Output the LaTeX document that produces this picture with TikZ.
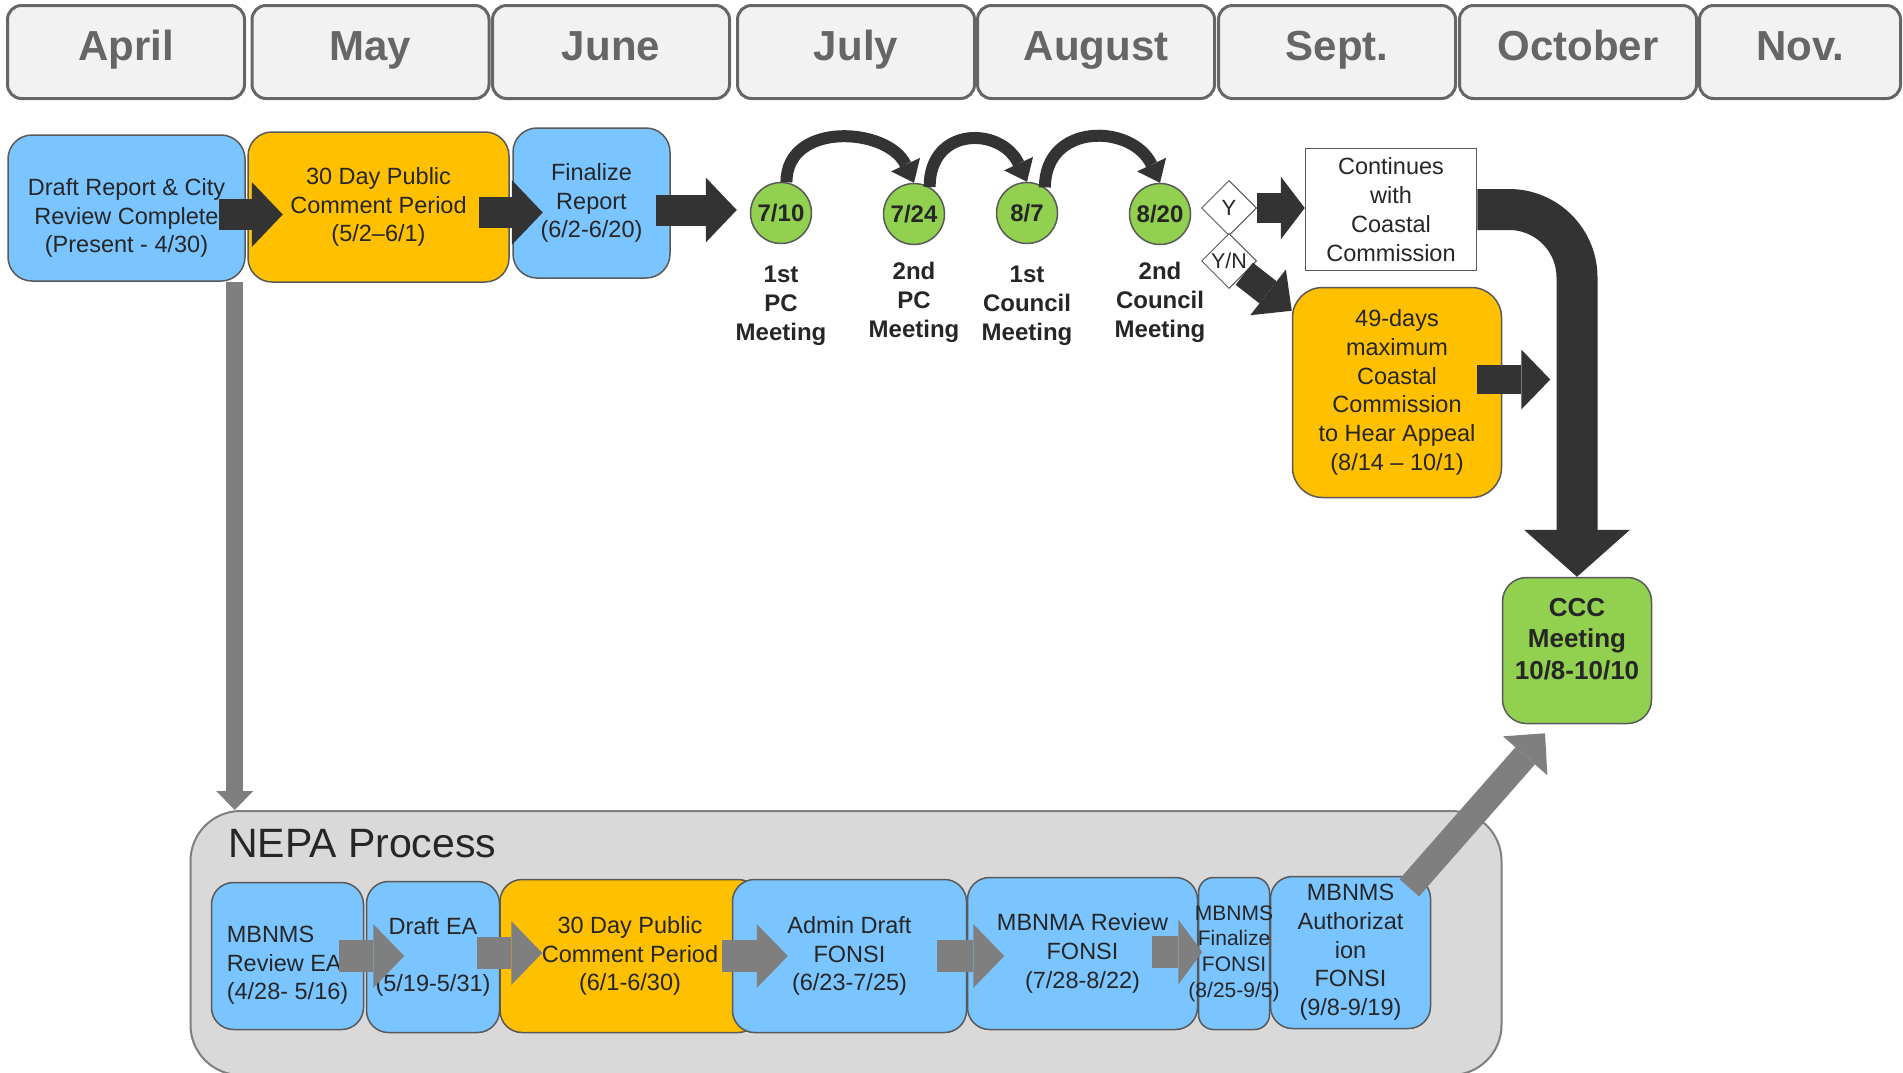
\documentclass[tikz,border=0pt]{standalone}
\usepackage{fontspec}
\setmainfont{Liberation Sans}
\usetikzlibrary{arrows.meta,shapes.geometric}

\definecolor{monthfill}{RGB}{242,242,242}
\definecolor{monthline}{RGB}{102,102,102}
\definecolor{sky}{RGB}{122,196,255}
\definecolor{amber}{RGB}{255,192,0}
\definecolor{leaf}{RGB}{146,208,80}
\definecolor{ink}{RGB}{38,38,38}
\definecolor{edge}{RGB}{89,89,89}
\definecolor{coal}{RGB}{51,51,51}
\definecolor{slate}{RGB}{127,127,127}
\definecolor{nepabg}{RGB}{217,217,217}

\newcommand{\monthfont}{\bfseries\fontsize{42}{50}\selectfont}
\newcommand{\stagefont}{\fontsize{23.5}{28.7}\selectfont}
\newcommand{\slimfont}{\fontsize{21}{25.6}\selectfont}
\newcommand{\meetfont}{\bfseries\fontsize{24}{29}\selectfont}
\newcommand{\cccfont}{\bfseries\fontsize{26}{31.5}\selectfont}

\tikzset{
  month/.style={draw=monthline, line width=3pt, fill=monthfill, rounded corners=14pt,
    minimum width=237pt, minimum height=93pt, inner sep=0pt, text=monthline,
    font=\monthfont, text height=30pt, text depth=14pt},
  stage/.style={draw=edge, line width=1.5pt, rounded corners=24pt, inner sep=0pt,
    align=center, text=ink, font=\stagefont},
  meet/.style={circle, draw=edge, line width=1.5pt, fill=leaf, minimum size=61pt,
    inner sep=0pt, text=ink, font=\meetfont},
  talk/.style={align=center, inner sep=0pt, text=ink, font=\meetfont},
  choice/.style={diamond, draw=edge, line width=1pt, fill=white, minimum width=55pt,
    minimum height=55pt, inner sep=0pt, text=ink},
  push/.style={draw=coal, line width=31pt, -{Triangle[length=31pt,width=65pt,line width=0pt]}},
  nudge/.style={draw=slate, line width=32pt, -{Triangle[length=31pt,width=64pt,line width=0pt]}},
  hop/.style={draw=coal, line width=12pt, -{Triangle[length=20pt,width=32pt,line width=0pt]}}
}

\begin{document}
\begin{tikzpicture}[x=1pt, y=-1pt]
    \clip (0,0) rectangle (1903,1072);
    % months
    \node[month] (apr) at (126,52) {April};
    \node[month] (may) at (370.5,52) {May};
    \node[month] (jun) at (611,52) {June};
    \node[month] (jul) at (856,52) {July};
    \node[month] (aug) at (1096,52) {August};
    \node[month] (sep) at (1337,52) {Sept.};
    \node[month] (oct) at (1578,52) {October};
    \node[month, minimum width=201pt] (nov) at (1800,52) {Nov.};

    % city report
    \node[stage, fill=sky, minimum width=237pt, minimum height=146pt] (draft) at (126.5,208) {\rule{0pt}{37pt}Draft Report \& City\\Review Complete\\(Present - 4/30)};
    \node[stage, fill=amber, minimum width=261pt, minimum height=150pt] (comment) at (378.5,207) {30 Day Public\\Comment Period\\(5/2--6/1)};
    \node[stage, fill=sky, minimum width=157pt, minimum height=150pt] (final) at (591.5,203) {Finalize\\Report\\(6/2-6/20)};
    \draw[push] ([xshift=-27pt, yshift=-6.5pt]draft.east) -- ([xshift=37pt, yshift=-6.5pt]draft.east);
    \draw[push] ([xshift=-31pt, yshift=-5.5pt]comment.east) -- ([xshift=33pt, yshift=-5.5pt]comment.east);
    \draw[push] ([xshift=-15pt, yshift=-7pt]final.east) -- ([xshift=66pt, yshift=-7pt]final.east);

    % hearings
    \node[meet] (m1) at (781,213) {7/10};
    \node[meet] (m2) at (914,214) {7/24};
    \node[meet] (m3) at (1027,213) {8/7};
    \node[meet] (m4) at (1160,214) {8/20};
    \draw[hop] (m1.80) to[out=90, in=115, looseness=1.23] (m2.north);
    \draw[hop] (m2.60) to[out=90, in=115, looseness=1.6] (m3.north);
    \draw[hop] (m3.55) to[out=90, in=115, looseness=1.45] (m4.north);
    \node[talk] (t1) at (781,306) {1st\\PC\\Meeting};
    \node[talk] (t2) at (914,302) {2nd\\PC\\Meeting};
    \node[talk] (t3) at (1027,306) {1st\\Council\\Meeting};
    \node[talk] (t4) at (1160,302) {2nd\\Council\\Meeting};

    % appeal
    \node[choice, font=\fontsize{22}{26}\selectfont] (yd) at (1229,208) {Y};
    \node[choice, font=\fontsize{21.5}{26}\selectfont] (yn) at (1229,261) {\makebox[0pt]{Y/N}};
    \node[draw=edge, line width=1.5pt, fill=white, minimum width=171pt, minimum height=122pt, inner sep=0pt,
      align=center, text=ink, font=\fontsize{23.5}{29}\selectfont] (cont) at (1391,209.5) {Continues\\with\\Coastal\\Commission};
    \node[stage, fill=amber, rounded corners=30pt, minimum width=209pt, minimum height=210pt] (f49) at (1397,392.5) {49-days\\maximum\\Coastal\\Commission\\to Hear Appeal\\(8/14 -- 10/1)};
    \node[stage, fill=leaf, font=\cccfont, minimum width=149pt, minimum height=146pt] (ccc) at (1577,650.5) {CCC\\Meeting\\10/8-10/10\\[-8pt]\mbox{}};
    \draw[push, line width=30pt, -{Triangle[length=24pt,width=63pt,line width=0pt]}] (yd.east) -- (yd.east -| cont.west);
    \draw[push, line width=28pt, -{Triangle[length=30pt,width=58pt,line width=0pt]}] (yn.-40) -- ([yshift=-24pt]f49.north west);
    \draw[push, line width=29pt, -{Triangle[length=29pt,width=60pt,line width=0pt]}] ([xshift=-25pt, yshift=13pt]f49.east) -- ([xshift=48pt, yshift=13pt]f49.east);
    \draw[draw=coal, line width=41pt, rounded corners=68pt, -{Triangle[length=47pt,width=106pt,line width=0pt]}] (cont.east) -| (ccc.north);

    % NEPA
    \node[draw=slate, line width=2pt, fill=nepabg, rounded corners=50pt, minimum width=1311pt, minimum height=264pt] (nepa) at (846,943) {};
    \node[anchor=base west, inner sep=0pt, text=ink, font=\fontsize{41}{48}\selectfont] (nepatitle) at (228,857) {NEPA Process};
    \node[stage, fill=sky, rounded corners=22pt, align=left, minimum width=152pt, minimum height=147pt] (n1) at (287.5,956) {\rule{0pt}{35pt}MBNMS\\Review EA\\(4/28- 5/16)};
    \node[stage, fill=sky, rounded corners=22pt, minimum width=133pt, minimum height=151pt] (n2) at (433,957) {Draft EA\\\mbox{}\\(5/19-5/31)};
    \node[stage, fill=amber, rounded corners=22pt, minimum width=260pt, minimum height=153pt] (n3) at (630,956) {30 Day Public\\Comment Period\\(6/1-6/30)};
    \node[stage, fill=sky, rounded corners=22pt, minimum width=234pt, minimum height=153pt] (n4) at (849.5,956) {Admin Draft\\FONSI\\(6/23-7/25)};
    \node[stage, fill=sky, rounded corners=22pt, minimum width=230pt, minimum height=152pt] (n5) at (1082.5,953.5) {MBNMA Review\\FONSI\\(7/28-8/22)};
    \node[stage, fill=sky, rounded corners=22pt, minimum width=160pt, minimum height=152pt] (n7) at (1350.5,952.5) {MBNMS\\Authorizat\\ion\\FONSI\\(9/8-9/19)};
    \node[stage, fill=sky, rounded corners=15pt, font=\slimfont, minimum width=71pt, minimum height=152pt] (n6) at (1234,953.5) {\makebox[0pt]{MBNMS}\\\makebox[0pt]{Finalize}\\\makebox[0pt]{FONSI}\\\makebox[0pt]{(8/25-9/5)}};
    \draw[nudge] ([xshift=-25pt]n1.east) -- ([xshift=40pt]n1.east);
    \draw[nudge] ([xshift=-23pt, yshift=4pt]n2.east) -- ([xshift=42pt, yshift=4pt]n2.east);
    \draw[nudge] ([xshift=-10pt]n4.west) -- ([xshift=56pt]n4.west);
    \draw[nudge] ([xshift=-30pt]n4.east) -- ([xshift=37pt]n4.east);
    \draw[nudge, -{Triangle[length=24pt,width=65pt,line width=0pt]}] ([xshift=-46pt, yshift=1.5pt]n5.east) -- ([xshift=4pt, yshift=1.5pt]n5.east);

    % links between the two tracks
    \coordinate (drop) at ([xshift=-11pt]draft.south east);
    \draw[nudge, line width=17pt, -{Triangle[length=19pt,width=37pt,line width=0pt]}] (drop) -- (drop |- nepa.north);
    \draw[nudge, line width=26pt, -{Triangle[length=30pt,width=59pt,line width=0pt]}] ([shift={(-22pt,-12pt)}]n7.north east) -- ([shift={(-32pt,-9pt)}]ccc.south);
\end{tikzpicture}
\end{document}
